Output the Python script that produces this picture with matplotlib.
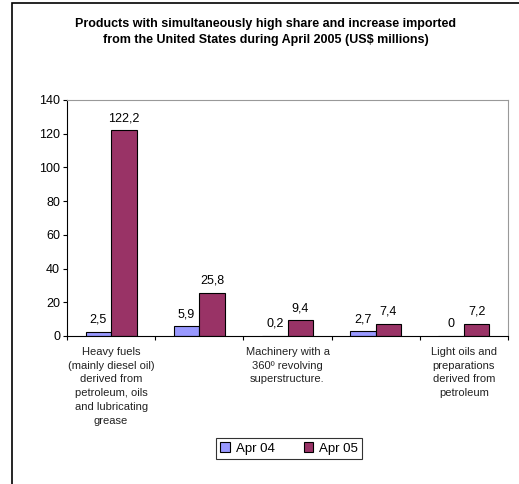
import matplotlib
matplotlib.use("Agg")
import matplotlib.pyplot as plt
from matplotlib.patches import Rectangle
import numpy as np

plt.rcParams['font.family'] = ['Liberation Sans', 'DejaVu Sans']

categories = [
    "Heavy fuels\n(mainly diesel oil)\nderived from\npetroleum, oils\nand lubricating\ngrease",
    "",
    "Machinery with a\n360º revolving\nsuperstructure.",
    "",
    "Light oils and\npreparations\nderived from\npetroleum",
]
apr04 = [2.5, 5.9, 0.2, 2.7, 0]
apr05 = [122.2, 25.8, 9.4, 7.4, 7.2]
series_names = ["Apr 04", "Apr 05"]
yticks = [0, 20, 40, 60, 80, 100, 120, 140]

W, H = 519, 484
fig = plt.figure(figsize=(W / 100, H / 100), dpi=100)

# outer frame (only top and left edges fall inside the canvas)
fig.patches.append(Rectangle((12 / W, -0.1), 1.2, 1 - 3 / H + 0.1,
                             transform=fig.transFigure, fill=False,
                             edgecolor='black', linewidth=1.2))

ax = fig.add_axes([67 / W, 1 - 336 / H, (508 - 67) / W, (336 - 100) / H])

x = np.arange(len(categories))
bw = 0.29
b1 = ax.bar(x - bw / 2, apr04, bw, color='#9999FF', edgecolor='black',
            linewidth=0.8, label=series_names[0])
b2 = ax.bar(x + bw / 2, apr05, bw, color='#993366', edgecolor='black',
            linewidth=0.8, label=series_names[1])

def fmt(v):
    s = f"{v:.1f}".rstrip('0').rstrip('.')
    return s.replace('.', ',')

for bars, vals in ((b1, apr04), (b2, apr05)):
    for rect, v in zip(bars, vals):
        ax.text(rect.get_x() + rect.get_width() / 2, v + 3.5, fmt(v),
                ha='center', va='bottom', fontsize=9)

ax.set_xlim(-0.5, len(categories) - 0.5)
ax.set_ylim(0, 140)
ax.set_yticks(yticks)
ax.tick_params(axis='y', labelsize=9, length=3, width=0.8, pad=2)
ax.set_xticks(np.arange(len(categories) + 1) - 0.5)
ax.set_xticklabels([])
ax.tick_params(axis='x', length=3, width=0.8, direction='out')

for i, lab in enumerate(categories):
    if lab:
        ax.text(i, -6.5, lab, ha='center', va='top', fontsize=8,
                linespacing=1.47, color='#222222', transform=ax.transData)

for side in ('top', 'right'):
    ax.spines[side].set_color('#999999')
    ax.spines[side].set_linewidth(0.8)
for side in ('left', 'bottom'):
    ax.spines[side].set_color('black')
    ax.spines[side].set_linewidth(0.8)

fig.text(0.5 + 6 / W, 1 - 32 / H,
         "Products with simultaneously high share and increase imported\n"
         "from the United States during April 2005 (US$ millions)",
         ha='center', va='center', fontsize=9, fontweight='bold',
         linespacing=1.45)

leg = fig.legend(handles=[b1, b2], loc='center',
                 bbox_to_anchor=(289 / W, 1 - 448.5 / H), ncol=2,
                 fontsize=9.5, frameon=True, fancybox=False,
                 edgecolor='black', handlelength=0.75, handleheight=0.75,
                 columnspacing=2.2, handletextpad=0.4, borderpad=0.35)
leg.get_frame().set_linewidth(0.8)

fig.savefig("out.png", dpi=100)
